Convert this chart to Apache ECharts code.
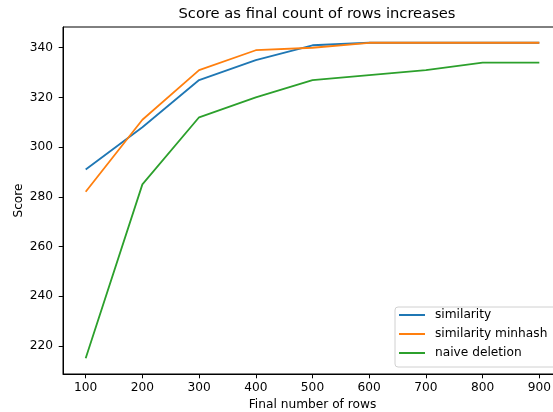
<!DOCTYPE html>
<html><head><meta charset="utf-8">
<script src="https://cdn.jsdelivr.net/npm/echarts@6/dist/echarts.min.js"></script>
<style>html,body{margin:0;padding:0;background:#fff;overflow:hidden;width:553px;height:412px}#c{width:590px;height:412px}</style>
</head><body><div id="c"></div>
<script>
const rows = [100, 200, 300, 400, 500, 600, 700, 800, 900];
const similarity = [291, 308, 327, 335, 341, 342, 342, 342, 342];
const similarityMinhash = [282, 311, 331, 339, 340, 342, 342, 342, 342];
const naiveDeletion = [215, 285, 312, 320, 327, 329, 331, 334, 334];
const xTicks = [100, 200, 300, 400, 500, 600, 700, 800, 900];
const yTicks = [220, 240, 260, 280, 300, 320, 340];
const seriesNames = ['similarity', 'similarity minhash', 'naive deletion'];
const colors = ['#1f77b4', '#ff7f0e', '#2ca02c'];

const F = 'DejaVu Sans';
const FS = 12.2;
const pair = arr => rows.map((r, i) => [r, arr[i]]);
const chart = echarts.init(document.getElementById('c'), null, {renderer: 'canvas'});
const mk = (name, data, c) => ({
  name, type: 'line', data: pair(data), symbol: 'none', showSymbol: false,
  lineStyle: {color: c, width: 1.8}, itemStyle: {color: c}, animation: false
});
chart.setOption({
  animation: false,
  title: {
    text: 'Score as final count of rows increases', left: 312, top: 2, textAlign: 'center',
    textStyle: {fontFamily: F, fontSize: 14.7, fontWeight: 'normal', color: '#000'}
  },
  grid: {left: 63, width: 499, top: 27, bottom: 38, outerBoundsMode: 'none', containLabel: false,
    show: true, borderColor: '#000', borderWidth: 1, backgroundColor: 'transparent'},
  legend: {
    orient: 'vertical', left: 395, top: 307, data: seriesNames,
    backgroundColor: '#fff', borderColor: '#d0d0d0', borderWidth: 1, borderRadius: 3,
    padding: [1, 30, 7, 4], itemGap: 5, itemWidth: 26, itemHeight: 2, icon: 'rect',
    textStyle: {fontFamily: F, fontSize: FS, color: '#000', lineHeight: 14, padding: [0, 0, 0, 5]}
  },
  xAxis: {
    type: 'value', min: 60, max: 940,
    name: 'Final number of rows', nameLocation: 'middle', nameGap: 25, nameMoveOverlap: false,
    nameTextStyle: {fontFamily: F, fontSize: FS, color: '#000'},
    axisLine: {show: true, lineStyle: {color: '#000', width: 1}},
    axisTick: {show: true, length: 4.3, customValues: xTicks, lineStyle: {color: '#000'}},
    axisLabel: {fontFamily: F, fontSize: FS, color: '#000', margin: 8, customValues: xTicks},
    splitLine: {show: false}
  },
  yAxis: {
    type: 'value', min: 208.65, max: 348.35,
    name: 'Score', nameLocation: 'middle', nameGap: 38, nameRotate: 90, nameMoveOverlap: false,
    nameTextStyle: {fontFamily: F, fontSize: FS, color: '#000'},
    axisLine: {show: true, lineStyle: {color: '#000', width: 1}},
    axisTick: {show: true, length: 4.3, customValues: yTicks, lineStyle: {color: '#000'}},
    axisLabel: {fontFamily: F, fontSize: FS, color: '#000', margin: 10, customValues: yTicks},
    splitLine: {show: false}
  },
  series: [
    mk(seriesNames[0], similarity, colors[0]),
    mk(seriesNames[1], similarityMinhash, colors[1]),
    mk(seriesNames[2], naiveDeletion, colors[2])
  ]
});
</script></body></html>
